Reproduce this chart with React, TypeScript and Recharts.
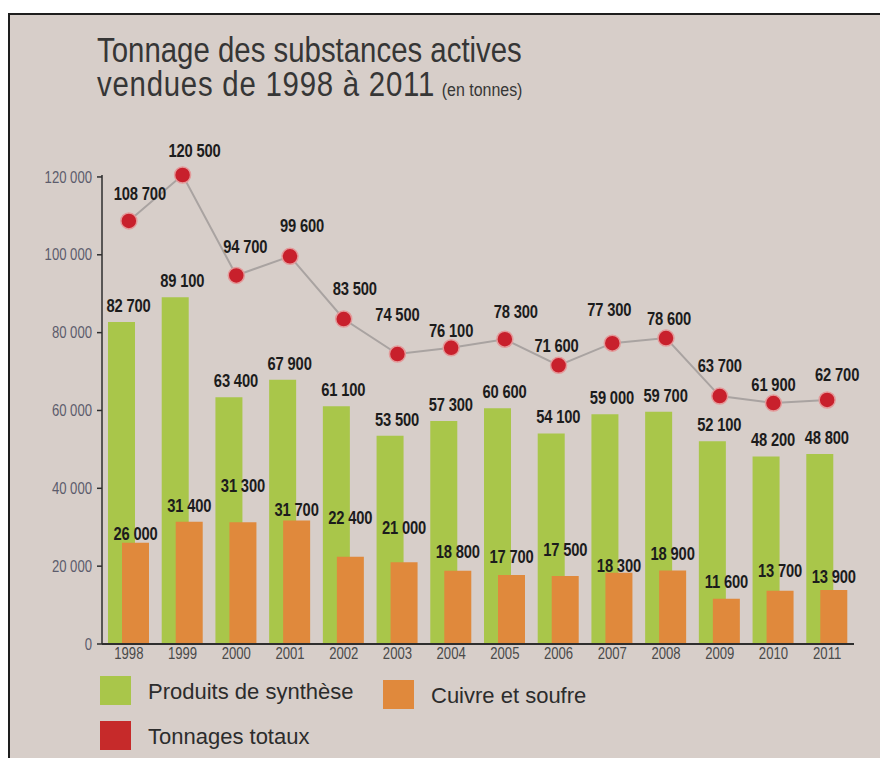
import React from 'react';
import { ComposedChart, Bar, Line, XAxis, YAxis } from 'recharts';

const years = ['1998', '1999', '2000', '2001', '2002', '2003', '2004', '2005', '2006', '2007', '2008', '2009', '2010', '2011'];
const produitsSynthese = [82700, 89100, 63400, 67900, 61100, 53500, 57300, 60600, 54100, 59000, 59700, 52100, 48200, 48800];
const cuivreSoufre = [26000, 31400, 31300, 31700, 22400, 21000, 18800, 17700, 17500, 18300, 18900, 11600, 13700, 13900];
const tonnagesTotaux = [108700, 120500, 94700, 99600, 83500, 74500, 76100, 78300, 71600, 77300, 78600, 63700, 61900, 62700];
const yTicks = [0, 20000, 40000, 60000, 80000, 100000, 120000];

// label placement tweaks (label layout only, not data)
const totalLabelNudge = [[11, 21], [12, 18], [9, 22], [12, 24], [11, 24], [0, 33], [0, 11], [11, 21], [-2, 13], [-3, 27], [3, 13], [0, 24], [0, 12], [10, 19]];
const cuivreLabelLift = [3, 10, 30, 5, 33, 28, 13, 12, 20, 1, 10, 11, 14, 7];

const data = years.map((y, i) => ({
  year: y,
  synthese: produitsSynthese[i],
  cuivre: cuivreSoufre[i],
  total: tonnagesTotaux[i],
}));

const SANS = '"Liberation Sans", Arial, sans-serif';
const NARROW_SCALE = 0.82;
const GREEN = '#a9c64a';
const ORANGE = '#e0893c';
const RED = '#c8202c';
const BG = '#d7cec9';

const fmt = (v: number) => {
  const s = String(v);
  return s.length > 3 ? s.slice(0, s.length - 3) + ' ' + s.slice(s.length - 3) : s;
};

const NarrowText = ({ x, y, anchor = 'start', size, weight = 400, fill, dy, spacing = 0, scale = NARROW_SCALE, children }: any) => (
  <text
    transform={`translate(${x},${y}) scale(${scale},1)`}
    x={0}
    y={0}
    dy={dy}
    textAnchor={anchor}
    style={{ fontFamily: SANS, fontSize: size, fontWeight: weight, fill, letterSpacing: spacing }}
  >
    {children}
  </text>
);

const LabelText = ({ x, y, value }: any) => (
  <NarrowText x={x} y={y} anchor="middle" size={18} weight={700} fill="#1c1c1c" spacing={-0.2}>
    {fmt(value)}
  </NarrowText>
);

const GreenLabel = (p: any) => <LabelText x={p.x + p.width / 2 + 7} y={p.y - 10} value={p.value} />;

const OrangeLabel = (p: any) => <LabelText x={p.x + p.width / 2} y={p.y - (cuivreLabelLift[p.index] ?? 8)} value={p.value} />;

const TotalLabel = (p: any) => {
  const n = totalLabelNudge[p.index] || [0, 20];
  return <LabelText x={p.x + n[0]} y={p.y - n[1]} value={p.value} />;
};

const YTick = (p: any) => (
  <NarrowText x={p.x} y={p.y} anchor="end" size={16} fill="#5c5c6c" dy="0.355em">
    {fmt(p.payload.value)}
  </NarrowText>
);

const XTick = (p: any) => (
  <NarrowText x={p.x} y={p.y} anchor="middle" size={16} fill="#4a4a4a" dy="0.71em">
    {p.payload.value}
  </NarrowText>
);

const legendItems = [
  { label: 'Produits de synthèse', color: GREEN, x: 100, y: 676 },
  { label: 'Cuivre et soufre', color: ORANGE, x: 383, y: 680 },
  { label: 'Tonnages totaux', color: '#c62a2a', x: 100, y: 721 },
];

export default function App() {
  return (
    <div style={{ position: 'absolute', left: 0, top: 0, width: 880, height: 758, background: '#ffffff', overflow: 'hidden' }}>
      <div
        style={{
          position: 'absolute',
          left: 8,
          top: 13,
          width: 880,
          height: 760,
          background: BG,
          borderLeft: '2px solid #1e1e1e',
          borderTop: '2px solid #1e1e1e',
        }}
      />
      <div style={{ position: 'absolute', left: 0, top: 0 }}>
        <ComposedChart
          width={880}
          height={758}
          data={data}
          margin={{ top: 175, right: 26, left: 42, bottom: 84 }}
          barSize={27}
          barGap={-13}
        >
          <XAxis
            dataKey="year"
            interval={0}
            tickLine={false}
            tickSize={0}
            tickMargin={4}
            height={30}
            axisLine={{ stroke: '#2e2e2e', strokeWidth: 2 }}
            tick={XTick}
          />
          <YAxis
            width={60}
            domain={[0, 120500]}
            ticks={yTicks}
            interval={0}
            tickSize={5}
            tickMargin={5}
            axisLine={{ stroke: '#2e2e2e', strokeWidth: 1.5 }}
            tickLine={{ stroke: '#2e2e2e', strokeWidth: 1.5 }}
            tick={YTick}
          />
          <Bar dataKey="synthese" fill={GREEN} isAnimationActive={false} label={GreenLabel} />
          <Bar dataKey="cuivre" fill={ORANGE} isAnimationActive={false} label={OrangeLabel} />
          <Line
            dataKey="total"
            stroke="#a9a3a1"
            strokeWidth={2}
            isAnimationActive={false}
            dot={{ r: 8, fill: RED, stroke: '#e39a9a', strokeWidth: 1.5 }}
            activeDot={false}
            label={TotalLabel}
          />
        </ComposedChart>
      </div>
      <svg width={880} height={758} style={{ position: 'absolute', left: 0, top: 0, pointerEvents: 'none' }}>
        <NarrowText x={97} y={62} size={35} scale={0.84} fill="#363636">
          Tonnage des substances actives
        </NarrowText>
        <NarrowText x={97} y={96} size={35} scale={0.84} spacing={0.9} fill="#363636">
          vendues de 1998 à 2011
          <tspan dx={8} style={{ fontSize: 19, letterSpacing: 0 }}>(en tonnes)</tspan>
        </NarrowText>
        {legendItems.map((it) => (
          <g key={it.label}>
            <rect x={it.x} y={it.y} width={31} height={29} fill={it.color} />
            <text x={it.x + 48} y={it.y + 23} style={{ fontFamily: SANS, fontSize: 22, fill: '#2c2c2c' }}>
              {it.label}
            </text>
          </g>
        ))}
      </svg>
    </div>
  );
}
